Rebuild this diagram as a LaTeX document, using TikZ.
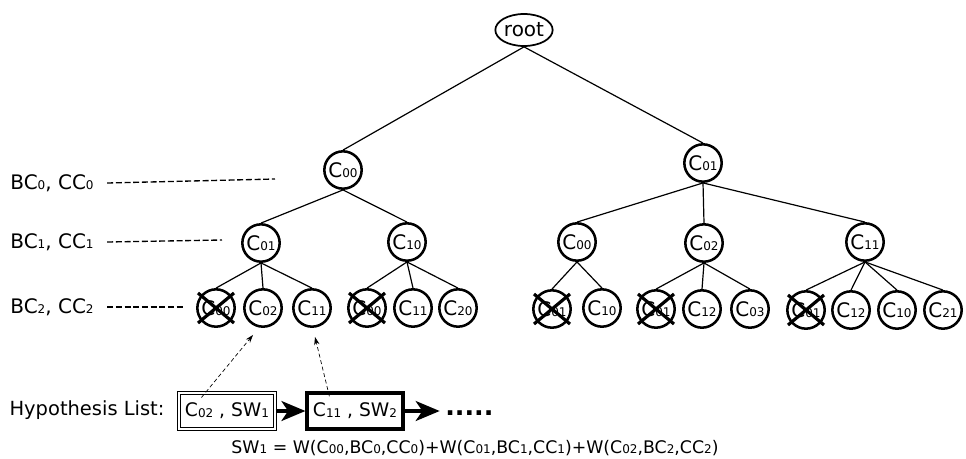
\documentclass[tikz,border=0pt]{standalone}
\usepackage{fontspec}
\setmainfont{DejaVu Sans}
\usetikzlibrary{arrows.meta,calc,shapes.geometric}

\newcommand{\lo}[1]{\raisebox{-0.4pt}{\fontsize{9}{9}\selectfont#1}}

\tikzset{
  cand/.style={circle,draw,line width=1.9pt,minimum size=28pt,inner sep=0pt,font=\fontsize{15}{16}\selectfont},
  edge/.style={line width=0.9pt},
  cross/.style={line width=2.4pt},
  lvl/.style={font=\fontsize{15}{16}\selectfont,inner sep=0pt},
  lvlline/.style={line width=1pt,dash pattern=on 4.5pt off 2pt},
  hyp/.style={draw,minimum width=72pt,minimum height=27pt,inner sep=2pt,font=\fontsize{14}{16}\selectfont},
  ptr/.style={densely dashed,line width=0.5pt,-{Stealth[length=6pt,width=4pt]}},
  link/.style={line width=2.4pt,-{Stealth[length=18pt,width=15pt,inset=5pt]}}
}

\begin{document}
\begin{tikzpicture}[x=0.75pt,y=-0.75pt]
\useasboundingbox (0,0) rectangle (966,458);

% tree
\node[ellipse,draw,line width=1.3pt,minimum width=43pt,minimum height=24pt,inner sep=0pt,font=\fontsize{15}{16}\selectfont] (root) at (524,30) {root};
\node[cand] (a) at (343,170) {C\lo{00}};
\node[cand] (b) at (703,163) {C\lo{01}};
\node[cand] (aa) at (261,243) {C\lo{01}};
\node[cand] (ab) at (407,242) {C\lo{10}};
\node[cand] (ba) at (577,242) {C\lo{00}};
\node[cand] (bb) at (704,243) {C\lo{02}};
\node[cand] (bc) at (865,242) {C\lo{11}};
\node[cand] (aaa) at (216,308) {C\lo{00}};
\node[cand] (aab) at (263,308) {C\lo{02}};
\node[cand] (aac) at (312,308) {C\lo{11}};
\node[cand] (aba) at (367,308) {C\lo{00}};
\node[cand] (abb) at (413,308) {C\lo{11}};
\node[cand] (abc) at (458,308) {C\lo{20}};
\node[cand] (baa) at (552,309) {C\lo{01}};
\node[cand] (bab) at (602,308) {C\lo{10}};
\node[cand] (bba) at (656,309) {C\lo{01}};
\node[cand] (bbb) at (702,309) {C\lo{12}};
\node[cand] (bbc) at (750,309) {C\lo{03}};
\node[cand] (bca) at (806,310) {C\lo{01}};
\node[cand] (bcb) at (851,310) {C\lo{12}};
\node[cand] (bcc) at (897,310) {C\lo{10}};
\node[cand] (bcd) at (943,310) {C\lo{21}};

\foreach \p/\c in {root/a,root/b,a/aa,a/ab,b/ba,b/bb,b/bc,
  aa/aaa,aa/aab,aa/aac,ab/aba,ab/abb,ab/abc,ba/baa,ba/bab,
  bb/bba,bb/bbb,bb/bbc,bc/bca,bc/bcb,bc/bcc,bc/bcd}
\draw[edge] (\p.south) -- (\c.north);

% pruned candidates
\foreach \n in {aaa,aba,baa,bba,bca}{
\draw[cross] ($(\n)+(-18,-15)$) -- ($(\n)+(18,15)$);
\draw[cross] ($(\n)+(-18,15)$) -- ($(\n)+(18,-15)$);}

% levels
\node[lvl] (l0) at (52,183) {BC\lo{0}, CC\lo{0}};
\node[lvl] (l1) at (52,242) {BC\lo{1}, CC\lo{1}};
\node[lvl] (l2) at (52,307) {BC\lo{2}, CC\lo{2}};
\coordinate (e0) at (275,179);
\coordinate (e1) at (222,240);
\coordinate (e2) at (183,307);
\draw[lvlline] ([xshift=10pt]l0.east) -- (e0);
\draw[lvlline] ([xshift=10pt]l1.east) -- (e1);
\draw[lvlline] ([xshift=10pt]l2.east) -- (e2);

% hypothesis list
\node[font=\fontsize{14.6}{16}\selectfont] (hl) at (87,410) {Hypothesis List:};
\node[hyp,double,line width=0.8pt,double distance=1.1pt] (h1) at (227,411) {C\lo{02} , SW\lo{1}};
\node[hyp,line width=2.4pt] (h2) at (355,411) {C\lo{11} , SW\lo{2}};
\node[anchor=west,inner sep=0pt,font=\fontsize{19}{20}\bfseries] (more) at (445,413) {.....};
\draw[link] (h1.east) -- (h2.west);
\draw[link] (h2.east) -- ([xshift=-4pt]more.west |- h2.east);
\draw[ptr] ($(h1.north west)+(23,5)$) -- ($(aab.south)+(-10,7)$);
\draw[ptr] ($(h2.north west)+(24,5)$) -- ($(aac.south)+(3,9)$);

\node[font=\fontsize{13}{16}\selectfont] (sw) at (475,448) {SW\lo{1} = W(C\lo{00},BC\lo{0},CC\lo{0})+W(C\lo{01},BC\lo{1},CC\lo{1})+W(C\lo{02},BC\lo{2},CC\lo{2})};
\end{tikzpicture}
\end{document}
